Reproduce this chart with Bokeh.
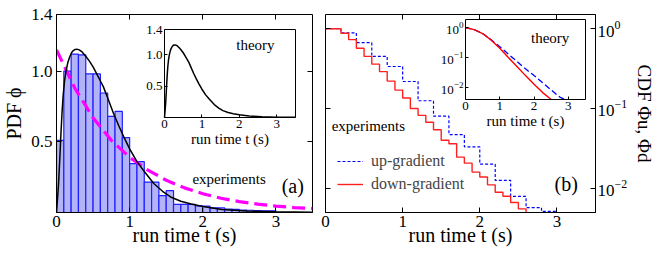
import numpy as np
from bokeh.plotting import figure
from bokeh.layouts import row
from bokeh.models import (Range1d, LinearAxis, LogAxis, FixedTicker, NumeralTickFormatter,
                          LogScale, Legend, LegendItem, LogTickFormatter)
from bokeh.core.properties import value
from bokeh.embed import file_html
from bokeh.resources import INLINE

FONT = "Liberation Serif"

# ---------------- data : panel (a) ----------------
bin_edges = [round(0.1 * i, 1) for i in range(31)]
hist_pdf = [0.51, 1.00, 1.12, 1.115, 0.98, 0.98, 0.845, 0.68, 0.715, 0.53,
            0.345, 0.36, 0.215, 0.215, 0.12, 0.155, 0.058, 0.058, 0.058, 0.047,
            0.045, 0.033, 0.032, 0.024, 0.022, 0.017, 0.016, 0.013, 0.012, 0.012]

t_theory = [0.0, 0.01, 0.02, 0.03, 0.045, 0.06, 0.075, 0.09, 0.11, 0.13, 0.155, 0.18, 0.205,
            0.23, 0.255, 0.28, 0.31, 0.35, 0.4, 0.45, 0.5, 0.55, 0.6, 0.64, 0.7, 0.78,
            0.85, 0.92, 1.0, 1.1, 1.2, 1.33, 1.45, 1.56, 1.7, 1.84, 2.0, 2.26, 2.6, 3.0, 3.5]
pdf_theory = [0.0, 0.07, 0.14, 0.22, 0.38, 0.55, 0.7, 0.82, 0.93, 1.0, 1.06, 1.1, 1.13,
              1.145, 1.153, 1.155, 1.15, 1.135, 1.105, 1.07, 1.03, 0.98, 0.93, 0.89, 0.81, 0.70,
              0.615, 0.535, 0.45, 0.36, 0.29, 0.205, 0.15, 0.11, 0.08, 0.06, 0.042, 0.022, 0.011, 0.005, 0.002]

t_fit = [0.0, 0.25, 0.5, 0.75, 1.0, 1.25, 1.5, 1.75, 2.0, 2.25, 2.5, 2.75, 3.0, 3.25, 3.5]
pdf_fit = [1.15, 0.88, 0.67, 0.51, 0.39, 0.30, 0.228, 0.174, 0.133, 0.101, 0.077, 0.059, 0.045, 0.035, 0.028]

xticks = [0, 1, 2, 3]
pdf_yticks = [0.5, 1.0, 1.4]
pdf_mirror_yticks = [0.5, 1.0]
top_ticks = [1, 2, 3]

# ---------------- data : panel (b) ----------------
t_down = [0.0, 0.1, 0.2, 0.3, 0.4, 0.5, 0.6, 0.7, 0.8, 0.9, 1.0, 1.1, 1.2, 1.3, 1.4,
          1.5, 1.6, 1.7, 1.8, 1.9, 2.0, 2.1, 2.2, 2.3, 2.4, 2.5, 2.6, 2.6]
cdf_down = [1.0, 1.0, 0.88, 0.73, 0.57, 0.45, 0.36, 0.29, 0.22, 0.17, 0.135, 0.10, 0.082, 0.067, 0.054,
            0.040, 0.036, 0.0245, 0.0206, 0.0159, 0.0138, 0.011, 0.0089, 0.0079, 0.0066, 0.0055, 0.0055, 0.001]

t_up = [0.0, 0.2, 0.4, 0.6, 0.8, 1.0, 1.2, 1.4, 1.6, 1.8, 2.0, 2.2, 2.4, 2.6, 2.8, 3.0]
cdf_up = [1.0, 0.89, 0.67, 0.45, 0.336, 0.218, 0.125, 0.08, 0.047, 0.033, 0.02, 0.0125, 0.0079, 0.0057, 0.0051, 0.0051]

t_cdf_th_up = [0.0, 0.25, 0.5, 0.75, 1.0, 1.25, 1.5, 1.75, 2.0, 2.25, 2.5, 2.75, 2.9]
cdf_th_up = [1.0, 0.85, 0.63, 0.39, 0.23, 0.13, 0.074, 0.042, 0.025, 0.0145, 0.0083, 0.0048, 0.0040]
t_cdf_th_down = [0.0, 0.25, 0.5, 0.75, 1.0, 1.25, 1.5, 1.75, 2.0, 2.25, 2.5]
cdf_th_down = [1.0, 0.85, 0.63, 0.38, 0.204, 0.10, 0.05, 0.025, 0.0129, 0.0068, 0.0040]

cdf_ticks = [1.0, 0.1, 0.01]

# ---------------- layout constants ----------------
FH = 198
FW1 = 256
FW2 = 270
X_MAX = 3.5
PDF_MAX = 1.4
CDF_MIN, CDF_MAX = 0.00495, 1.51
INSET_CDF_MIN, INSET_CDF_MAX = 0.004, 1.85


def style_axis(ax, label_size="17px", tick_in=5, standoff=3):
    ax.major_tick_in = tick_in
    ax.major_tick_out = 0
    ax.minor_tick_in = 0
    ax.minor_tick_out = 0
    ax.major_tick_line_color = "black"
    ax.major_tick_line_width = 1
    ax.axis_line_color = "black"
    ax.axis_line_width = 1
    ax.major_label_text_font = FONT
    ax.major_label_text_font_size = label_size
    ax.major_label_text_color = "black"
    ax.major_label_standoff = standoff
    ax.axis_label_text_font = FONT
    ax.axis_label_text_font_style = "normal"
    ax.axis_label_text_color = "black"


def mirror_axis(ax, ticks, tick_in=5):
    ax.ticker = FixedTicker(ticks=ticks, minor_ticks=[])
    ax.major_tick_in = tick_in
    ax.major_tick_out = 0
    ax.minor_tick_in = 0
    ax.minor_tick_out = 0
    ax.axis_line_color = None
    ax.major_label_overrides = {t: "" for t in ticks}
    ax.major_label_text_font_size = "0px"


def base_fig(fw, y_range, **kw):
    p = figure(frame_width=fw, frame_height=FH, x_range=Range1d(0, X_MAX), y_range=y_range,
               output_backend="svg", toolbar_location=None, **kw)
    p.grid.visible = False
    p.outline_line_color = "black"
    p.outline_line_width = 1
    p.outline_line_alpha = 1
    p.background_fill_color = "white"
    p.border_fill_color = "white"
    return p


# ======================= panel (a) =======================
p1 = base_fig(FW1, Range1d(0, PDF_MAX), min_border_left=54, min_border_right=6,
              min_border_top=14, min_border_bottom=40)

# inset (a) placement in frame pixels
in1_left, in1_w, in1_bottom, in1_h = 108, 131, 95, 88
ppu_x1 = in1_w / X_MAX
ppu_y1 = in1_h / PDF_MAX
ix1_start = -in1_left / ppu_x1
iy1_start = -in1_bottom / ppu_y1
p1.extra_x_ranges = {"ix": Range1d(ix1_start, ix1_start + FW1 / ppu_x1)}
p1.extra_y_ranges = {"iy": Range1d(iy1_start, iy1_start + FH / ppu_y1)}

style_axis(p1.xaxis[0], standoff=3)
p1.xaxis.ticker = FixedTicker(ticks=xticks, minor_ticks=[])
p1.xaxis.axis_label = "run time t (s)"
p1.xaxis.axis_label_text_font_size = "20px"
p1.xaxis.axis_label_standoff = -6

style_axis(p1.yaxis[0], standoff=4)
p1.yaxis.ticker = FixedTicker(ticks=pdf_yticks, minor_ticks=[])
p1.yaxis.formatter = NumeralTickFormatter(format="0.0")
p1.yaxis.axis_label = "PDF ϕ"
p1.yaxis.axis_label_text_font_size = "20px"
p1.yaxis.axis_label_standoff = 3

ax = LinearAxis(fixed_location=X_MAX)
mirror_axis(ax, pdf_mirror_yticks)
p1.add_layout(ax, "right")
ax = LinearAxis(fixed_location=PDF_MAX)
mirror_axis(ax, top_ticks)
p1.add_layout(ax, "above")

p1.quad(left=bin_edges[:-1], right=bin_edges[1:], bottom=0, top=hist_pdf,
        fill_color="#b3b3f7", fill_alpha=1, line_color="#1f1fff", line_width=1.2)
p1.line(t_fit, pdf_fit, line_color="#ff00ff", line_width=3.2, line_dash="13 6")
p1.line(t_theory, pdf_theory, line_color="black", line_width=1.5)

p1.text(x=[2.36], y=[0.24], text=["experiments"], text_font=value(FONT), text_font_size="15px",
        text_align="center", text_baseline="middle", text_color="black")
p1.text(x=[3.23], y=[0.19], text=["(a)"], text_font=value(FONT), text_font_size="20px",
        text_align="center", text_baseline="middle", text_color="black")

# inset (a) content
p1.line(t_theory, pdf_theory, line_color="black", line_width=1.5, x_range_name="ix", y_range_name="iy")
p1.text(x=[2.43], y=[1.15], text=["theory"], text_font=value(FONT), text_font_size="15px",
        text_align="center", text_baseline="middle", text_color="black",
        x_range_name="ix", y_range_name="iy")

ia = LinearAxis(x_range_name="ix", y_range_name="iy", fixed_location=0, bounds=(0, X_MAX))
style_axis(ia, label_size="13px", tick_in=3, standoff=2)
ia.ticker = FixedTicker(ticks=xticks, minor_ticks=[])
ia.axis_label = "run time t (s)"
ia.axis_label_text_font_size = "15px"
ia.axis_label_standoff = 0
p1.add_layout(ia, "below")

ia = LinearAxis(x_range_name="ix", y_range_name="iy", fixed_location=0, bounds=(0, PDF_MAX))
style_axis(ia, label_size="13px", tick_in=3, standoff=2)
ia.ticker = FixedTicker(ticks=pdf_yticks, minor_ticks=[])
ia.formatter = NumeralTickFormatter(format="0.0")
p1.add_layout(ia, "left")

ia = LinearAxis(x_range_name="ix", y_range_name="iy", fixed_location=PDF_MAX, bounds=(0, X_MAX))
mirror_axis(ia, [])
ia.axis_line_color = "black"
p1.add_layout(ia, "above")
ia = LinearAxis(x_range_name="ix", y_range_name="iy", fixed_location=X_MAX, bounds=(0, PDF_MAX))
mirror_axis(ia, [])
ia.axis_line_color = "black"
p1.add_layout(ia, "right")

# ======================= panel (b) =======================
p2 = base_fig(FW2, Range1d(CDF_MIN, CDF_MAX), y_axis_type="log", y_axis_location="right",
              min_border_left=7, min_border_right=64, min_border_top=14, min_border_bottom=40)

in2_left, in2_w, in2_bottom, in2_h = 140, 120, 113, 80
ppu_x2 = in2_w / X_MAX
dec_per_px = (np.log10(INSET_CDF_MAX) - np.log10(INSET_CDF_MIN)) / in2_h
ix2_start = -in2_left / ppu_x2
iy2_lo = np.log10(INSET_CDF_MIN) - in2_bottom * dec_per_px
iy2_hi = np.log10(INSET_CDF_MAX) + (FH - in2_bottom - in2_h) * dec_per_px
p2.extra_x_ranges = {"ix": Range1d(ix2_start, ix2_start + FW2 / ppu_x2)}
p2.extra_y_ranges = {"iy": Range1d(10 ** iy2_lo, 10 ** iy2_hi)}
p2.extra_y_scales = {"iy": LogScale()}

style_axis(p2.xaxis[0], standoff=3)
p2.xaxis.ticker = FixedTicker(ticks=xticks, minor_ticks=[])
p2.xaxis.axis_label = "run time t (s)"
p2.xaxis.axis_label_text_font_size = "20px"
p2.xaxis.axis_label_standoff = -6

style_axis(p2.yaxis[0], standoff=2)
p2.yaxis.ticker = FixedTicker(ticks=cdf_ticks, minor_ticks=[])
p2.yaxis.axis_label = "CDF Φu, Φd"
p2.yaxis.axis_label_text_font_size = "19px"
p2.yaxis.axis_label_standoff = 4

ax = LogAxis(fixed_location=0)
mirror_axis(ax, cdf_ticks)
p2.add_layout(ax, "left")
ax = LinearAxis(fixed_location=CDF_MAX)
mirror_axis(ax, top_ticks)
p2.add_layout(ax, "above")

r_up = p2.step(t_up, cdf_up, mode="after", line_color="#0000ff", line_width=1.2, line_dash="3 2")
r_dn = p2.step(t_down, cdf_down, mode="after", line_color="#ff2020", line_width=1.4)

p2.text(x=[0.08], y=[0.061], text=["experiments"], text_font=value(FONT), text_font_size="15px",
        text_align="left", text_baseline="middle", text_color="black")
p2.text(x=[3.12], y=[0.0112], text=["(b)"], text_font=value(FONT), text_font_size="20px",
        text_align="center", text_baseline="middle", text_color="black")

legend = Legend(items=[LegendItem(label="up-gradient", renderers=[r_up]),
                       LegendItem(label="down-gradient", renderers=[r_dn])],
                location=(12, 18), margin=0, padding=0, spacing=3, glyph_width=26, glyph_height=20,
                label_standoff=8, label_text_font=FONT, label_text_font_size="16px",
                border_line_color=None, background_fill_alpha=0)
p2.add_layout(legend)

# inset (b) content
p2.line(t_cdf_th_up, cdf_th_up, line_color="#0000ff", line_width=1.3, line_dash="6 3",
        x_range_name="ix", y_range_name="iy")
p2.line(t_cdf_th_down, cdf_th_down, line_color="#ff0000", line_width=1.4,
        x_range_name="ix", y_range_name="iy")
p2.text(x=[2.47], y=[0.44], text=["theory"], text_font=value(FONT), text_font_size="15px",
        text_align="center", text_baseline="middle", text_color="black",
        x_range_name="ix", y_range_name="iy")

ib = LinearAxis(x_range_name="ix", y_range_name="iy", fixed_location=INSET_CDF_MIN, bounds=(0, X_MAX))
style_axis(ib, label_size="13px", tick_in=3, standoff=2)
ib.ticker = FixedTicker(ticks=xticks, minor_ticks=[])
ib.axis_label = "run time t (s)"
ib.axis_label_text_font_size = "15px"
ib.axis_label_standoff = 0
p2.add_layout(ib, "below")

ib = LogAxis(x_range_name="ix", y_range_name="iy", fixed_location=0, bounds=(INSET_CDF_MIN, INSET_CDF_MAX))
style_axis(ib, label_size="13px", tick_in=3, standoff=2)
ib.ticker = FixedTicker(ticks=cdf_ticks, minor_ticks=[])
ib.formatter = LogTickFormatter()
p2.add_layout(ib, "left")

ib = LinearAxis(x_range_name="ix", y_range_name="iy", fixed_location=INSET_CDF_MAX, bounds=(0, X_MAX))
mirror_axis(ib, [])
ib.axis_line_color = "black"
p2.add_layout(ib, "above")
ib = LogAxis(x_range_name="ix", y_range_name="iy", fixed_location=X_MAX, bounds=(INSET_CDF_MIN, INSET_CDF_MAX))
mirror_axis(ib, [])
ib.axis_line_color = "black"
p2.add_layout(ib, "right")

layout = row(p1, p2)
open("out.html", "w").write(file_html(layout, INLINE))
